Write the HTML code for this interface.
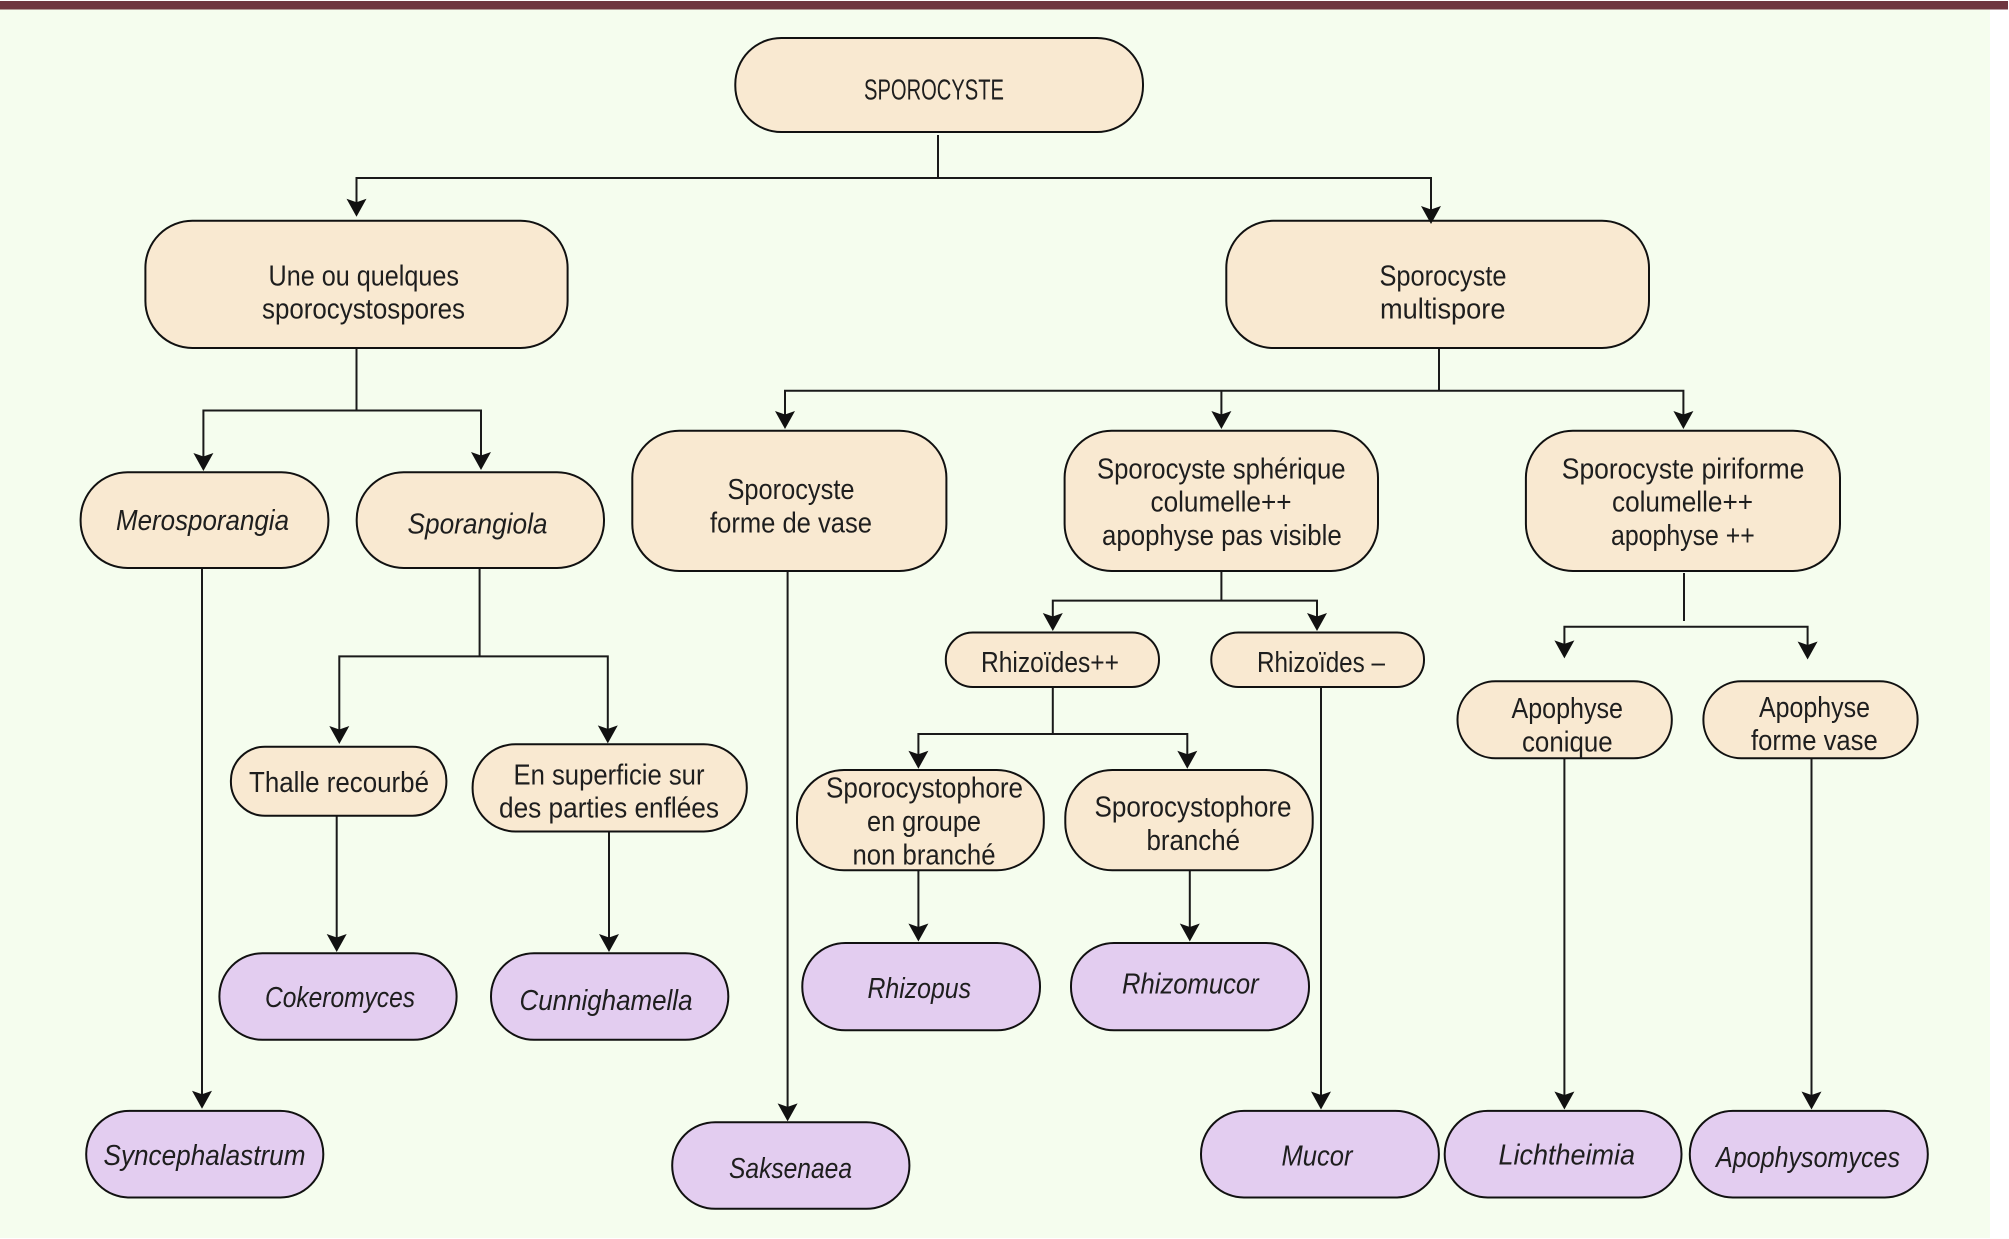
<!DOCTYPE html>
<html><head><meta charset="utf-8"><style>
html,body{margin:0;padding:0;background:#fff}
svg{display:block}
text{font-family:"Liberation Sans",sans-serif;font-size:29px;fill:#1e1e1e}
.i{font-style:italic}
.b{stroke:#111;stroke-width:2;fill:#f9e9d1}
.p{stroke:#111;stroke-width:2;fill:#e3cdf0}
.l{stroke:#1a1a1a;stroke-width:2;fill:none}
.a{fill:#111}
</style></head><body>
<svg width="2009" height="1239" viewBox="0 0 2009 1239" xmlns="http://www.w3.org/2000/svg">
<rect x="0" y="0" width="1990" height="1238" fill="#f5fdee"/>
<rect x="0" y="0" width="2009" height="1" fill="#fff"/>
<rect x="0" y="1" width="2008" height="8.5" fill="#6f3640"/>

<g>
<path class="l" d="M938 135V178M356.5 206V178H1431V212"/>
<path class="l" d="M356.5 348V410.5M203.4 460V410.5H481V460"/>
<path class="l" d="M1439 348V390.7M785 418V390.7H1683.4V418M1221.4 390.7V418"/>
<path class="l" d="M202 568V1098"/>
<path class="l" d="M479.6 568V656.4M339.3 733V656.4H607.8V733"/>
<path class="l" d="M787.6 571V1110"/>
<path class="l" d="M1221.4 571V600.6M1052.8 620V600.6H1317V620"/>
<path class="l" d="M1052.8 687V734M918.4 758V734H1187.3V758"/>
<path class="l" d="M918.4 870V931"/>
<path class="l" d="M1189.8 870V931"/>
<path class="l" d="M1321 687V1099"/>
<path class="l" d="M336.7 815.7V941"/>
<path class="l" d="M609 832V941"/>
<path class="l" d="M1684 573V621"/>
<path class="l" d="M1564.4 648V626.7H1807.6V648"/>
<path class="l" d="M1564.4 758.8V1099"/>
<path class="l" d="M1811.5 758.8V1099"/>
</g>

<g>
<rect class="b" x="735.3" y="38" width="407.7" height="94" rx="46" ry="46"/>
<rect class="b" x="145.4" y="220.8" width="422.2" height="127.2" rx="47" ry="47"/>
<rect class="b" x="1226.3" y="220.8" width="422.7" height="127.2" rx="47" ry="47"/>
<rect class="b" x="80.6" y="472.3" width="247.8" height="95.7" rx="47" ry="47"/>
<rect class="b" x="356.7" y="472.3" width="247.3" height="95.7" rx="47" ry="47"/>
<rect class="b" x="632.3" y="430.8" width="314.1" height="140.2" rx="47" ry="47"/>
<rect class="b" x="1064.6" y="430.8" width="313.4" height="140.2" rx="47" ry="47"/>
<rect class="b" x="1525.9" y="430.8" width="314.1" height="140.2" rx="47" ry="47"/>
<rect class="b" x="945.8" y="632.5" width="213.2" height="54.5" rx="27" ry="27"/>
<rect class="b" x="1211.3" y="632.5" width="212.7" height="54.5" rx="27" ry="27"/>
<rect class="b" x="797" y="770" width="246.8" height="100.3" rx="47" ry="47"/>
<rect class="b" x="1065.3" y="770" width="247.4" height="100.3" rx="47" ry="47"/>
<rect class="b" x="230.9" y="746.8" width="215.5" height="68.9" rx="34" ry="34"/>
<rect class="b" x="472.6" y="744.2" width="274.2" height="87.3" rx="43" ry="43"/>
<rect class="b" x="1457.5" y="681.3" width="214.3" height="77" rx="38" ry="38"/>
<rect class="b" x="1703.4" y="681.3" width="214.2" height="77" rx="38" ry="38"/>
<rect class="p" x="802.3" y="943" width="237.7" height="87.3" rx="43" ry="43"/>
<rect class="p" x="1071" y="943" width="238" height="87.3" rx="43" ry="43"/>
<rect class="p" x="219.4" y="953.2" width="237.2" height="86.6" rx="43" ry="43"/>
<rect class="p" x="491" y="953.2" width="237.3" height="86.6" rx="43" ry="43"/>
<rect class="p" x="86.2" y="1110.9" width="237.1" height="86.6" rx="43" ry="43"/>
<rect class="p" x="672.2" y="1122.2" width="237.2" height="86.6" rx="43" ry="43"/>
<rect class="p" x="1201" y="1110.9" width="237.9" height="86.6" rx="43" ry="43"/>
<rect class="p" x="1444.7" y="1110.9" width="236.8" height="86.6" rx="43" ry="43"/>
<rect class="p" x="1689.8" y="1110.9" width="238" height="86.6" rx="43" ry="43"/>
</g>

<g class="a">
<path d="M356.5 216.7l-10-18 10 3.5 10-3.5z"/>
<path d="M1431 224l-10-18 10 3.5 10-3.5z"/>
<path d="M203.4 471l-10-18 10 3.5 10-3.5z"/>
<path d="M481 470l-10-18 10 3.5 10-3.5z"/>
<path d="M785 429l-10-18 10 3.5 10-3.5z"/>
<path d="M1221.4 429l-10-18 10 3.5 10-3.5z"/>
<path d="M1683.4 429l-10-18 10 3.5 10-3.5z"/>
<path d="M202 1108.7l-10-18 10 3.5 10-3.5z"/>
<path d="M339.3 744l-10-18 10 3.5 10-3.5z"/>
<path d="M607.8 743.4l-10-18 10 3.5 10-3.5z"/>
<path d="M787.6 1121.4l-10-18 10 3.5 10-3.5z"/>
<path d="M1052.8 631l-10-18 10 3.5 10-3.5z"/>
<path d="M1317 631l-10-18 10 3.5 10-3.5z"/>
<path d="M918.4 768.7l-10-18 10 3.5 10-3.5z"/>
<path d="M1187.3 768.7l-10-18 10 3.5 10-3.5z"/>
<path d="M918.4 941.5l-10-18 10 3.5 10-3.5z"/>
<path d="M1189.8 941.5l-10-18 10 3.5 10-3.5z"/>
<path d="M1321 1109.5l-10-18 10 3.5 10-3.5z"/>
<path d="M336.7 952l-10-18 10 3.5 10-3.5z"/>
<path d="M609 952l-10-18 10 3.5 10-3.5z"/>
<path d="M1564.4 658.4l-10-18 10 3.5 10-3.5z"/>
<path d="M1807.6 659.5l-10-18 10 3.5 10-3.5z"/>
<path d="M1564.4 1109.5l-10-18 10 3.5 10-3.5z"/>
<path d="M1811.5 1109.5l-10-18 10 3.5 10-3.5z"/>
</g>

<g>
<text x="864" y="99.3" textLength="140" lengthAdjust="spacingAndGlyphs">SPOROCYSTE</text>
<text x="268.5" y="285.5" textLength="190.5" lengthAdjust="spacingAndGlyphs">Une ou quelques</text>
<text x="262" y="318.3" textLength="203" lengthAdjust="spacingAndGlyphs">sporocystospores</text>
<text x="1379.5" y="285.5" textLength="127" lengthAdjust="spacingAndGlyphs">Sporocyste</text>
<text x="1380" y="318.3" textLength="125.5" lengthAdjust="spacingAndGlyphs">multispore</text>
<text class="i" x="116" y="530" textLength="173" lengthAdjust="spacingAndGlyphs">Merosporangia</text>
<text class="i" x="407.5" y="533.3" textLength="140" lengthAdjust="spacingAndGlyphs">Sporangiola</text>
<text x="727.5" y="499" textLength="127" lengthAdjust="spacingAndGlyphs">Sporocyste</text>
<text x="710" y="532.3" textLength="162" lengthAdjust="spacingAndGlyphs">forme de vase</text>
<text x="1097" y="478.5" textLength="248.6" lengthAdjust="spacingAndGlyphs">Sporocyste sphérique</text>
<text x="1150.5" y="511.3" textLength="141" lengthAdjust="spacingAndGlyphs">columelle++</text>
<text x="1102" y="545" textLength="239.7" lengthAdjust="spacingAndGlyphs">apophyse pas visible</text>
<text x="1561.8" y="478.5" textLength="242.6" lengthAdjust="spacingAndGlyphs">Sporocyste piriforme</text>
<text x="1612" y="511.3" textLength="141" lengthAdjust="spacingAndGlyphs">columelle++</text>
<text x="1611" y="545" textLength="143.8" lengthAdjust="spacingAndGlyphs">apophyse ++</text>
<text x="981" y="672" textLength="138" lengthAdjust="spacingAndGlyphs">Rhizoïdes++</text>
<text x="1257" y="672" textLength="128" lengthAdjust="spacingAndGlyphs">Rhizoïdes –</text>
<text x="249" y="792" textLength="180" lengthAdjust="spacingAndGlyphs">Thalle recourbé</text>
<text x="513.5" y="784.5" textLength="191" lengthAdjust="spacingAndGlyphs">En superficie sur</text>
<text x="499" y="817.7" textLength="220" lengthAdjust="spacingAndGlyphs">des parties enflées</text>
<text x="826" y="797.5" textLength="197" lengthAdjust="spacingAndGlyphs">Sporocystophore</text>
<text x="867" y="830.8" textLength="114" lengthAdjust="spacingAndGlyphs">en groupe</text>
<text x="852.5" y="864.4" textLength="143" lengthAdjust="spacingAndGlyphs">non branché</text>
<text x="1094.5" y="816.5" textLength="197" lengthAdjust="spacingAndGlyphs">Sporocystophore</text>
<text x="1146.5" y="850" textLength="93.5" lengthAdjust="spacingAndGlyphs">branché</text>
<text x="1511.5" y="718" textLength="111.5" lengthAdjust="spacingAndGlyphs">Apophyse</text>
<text x="1522" y="751.3" textLength="90.6" lengthAdjust="spacingAndGlyphs">conique</text>
<text x="1759" y="717" textLength="111" lengthAdjust="spacingAndGlyphs">Apophyse</text>
<text x="1751" y="750" textLength="126.7" lengthAdjust="spacingAndGlyphs">forme vase</text>
<text class="i" x="265" y="1007" textLength="150" lengthAdjust="spacingAndGlyphs">Cokeromyces</text>
<text class="i" x="519.5" y="1010" textLength="173" lengthAdjust="spacingAndGlyphs">Cunnighamella</text>
<text class="i" x="867.5" y="998" textLength="103.5" lengthAdjust="spacingAndGlyphs">Rhizopus</text>
<text class="i" x="1122" y="993.5" textLength="136.7" lengthAdjust="spacingAndGlyphs">Rhizomucor</text>
<text class="i" x="103.5" y="1165" textLength="202" lengthAdjust="spacingAndGlyphs">Syncephalastrum</text>
<text class="i" x="729" y="1178" textLength="123" lengthAdjust="spacingAndGlyphs">Saksenaea</text>
<text class="i" x="1281.5" y="1165.5" textLength="71" lengthAdjust="spacingAndGlyphs">Mucor</text>
<text class="i" x="1498.5" y="1164.5" textLength="136.5" lengthAdjust="spacingAndGlyphs">Lichtheimia</text>
<text class="i" x="1716" y="1167" textLength="184" lengthAdjust="spacingAndGlyphs">Apophysomyces</text>
</g>
</svg>
</body></html>
